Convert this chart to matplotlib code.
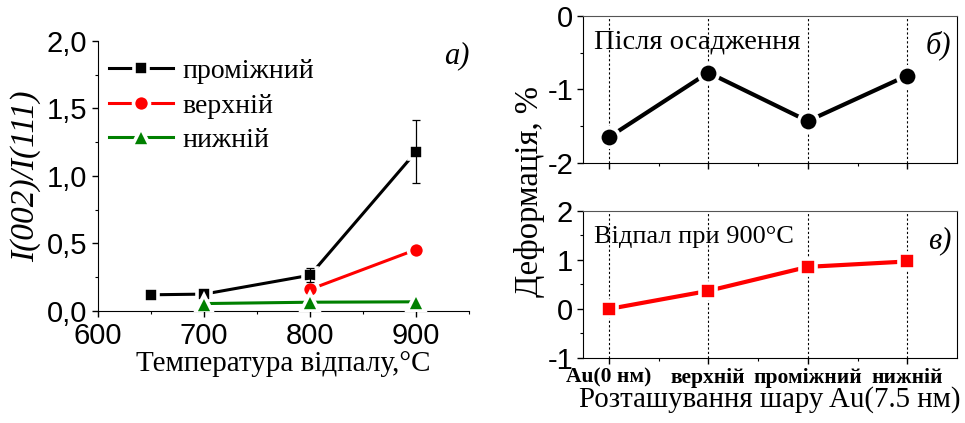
import matplotlib
matplotlib.use("Agg")
import matplotlib.pyplot as plt
from matplotlib.ticker import FixedLocator, MultipleLocator, FuncFormatter

plt.rcParams["axes.unicode_minus"] = False
SANS = "Liberation Sans"
SERIF = "Liberation Serif"

# ── (a) I(002)/I(111) vs annealing temperature ────────────────────────────────
temp_mid = [650, 700, 800, 900]
ratio_mid = [0.12, 0.125, 0.265, 1.18]
err_mid = [0.0, 0.0, 0.05, 0.235]

temp_top = [800, 900]
ratio_top = [0.16, 0.455]

temp_bot = [700, 800, 900]
ratio_bot = [0.055, 0.065, 0.068]

series_labels = ["проміжний", "верхній", "нижній"]

# ── (б), (в) strain vs Au layer position ─────────────────────────────────────
positions = [1, 2, 3, 4]
position_labels = ["Au(0 нм)", "верхній", "проміжний", "нижній"]
strain_deposited = [-1.65, -0.77, -1.43, -0.81]
strain_annealed = [0.0, 0.37, 0.86, 0.97]

fig = plt.figure(figsize=(9.65, 4.23), dpi=100)

# ---------------- panel a ----------------
ax = fig.add_axes([0.1016, 0.2648, 0.3845, 0.6383])
# white marker edges leave a small gap where the line meets each marker
ax.plot(temp_mid, ratio_mid, "-s", color="black", lw=2.2, ms=10.5,
        mec="white", mew=2.6, mfc="black", label=series_labels[0], zorder=3)
ax.plot(temp_top, ratio_top, "-o", color="red", lw=2.2, ms=11.5,
        mec="white", mew=2.6, mfc="red", label=series_labels[1], zorder=3)
ax.plot(temp_bot, ratio_bot, "-^", color="green", lw=2.2, ms=12.5,
        mec="white", mew=2.6, mfc="green", label=series_labels[2], zorder=3)
ax.errorbar(temp_mid[2:], ratio_mid[2:], yerr=err_mid[2:], fmt="none",
            ecolor="black", elinewidth=0.9, capsize=3, capthick=0.9, zorder=4)

ax.set_xlim(600, 950)
ax.set_ylim(0, 2.0)
ax.xaxis.set_major_locator(FixedLocator([600, 700, 800, 900]))
ax.xaxis.set_minor_locator(FixedLocator([650, 750, 850, 950]))
ax.yaxis.set_major_locator(MultipleLocator(0.5))
ax.yaxis.set_minor_locator(MultipleLocator(0.25))
ax.yaxis.set_major_formatter(FuncFormatter(lambda v, _: f"{v:.1f}".replace(".", ",")))
for side in ("top", "right"):
    ax.spines[side].set_visible(False)
ax.tick_params(which="major", direction="out", length=4, width=1, labelsize=21, pad=4)
ax.tick_params(which="minor", direction="out", length=2.5, width=0.8)
for lab in ax.get_xticklabels() + ax.get_yticklabels():
    lab.set_fontfamily(SANS)
ax.set_xlabel("Температура відпалу,°C", family=SERIF, fontsize=21, labelpad=1)
ax.set_ylabel("I(002)/I(111)", family=SERIF, style="italic", fontsize=24, labelpad=4)
ax.text(1.0, 0.945, "a)", transform=ax.transAxes, ha="right", va="center",
        family=SERIF, style="italic", fontsize=22)
ax.legend(loc="upper left", bbox_to_anchor=(0.03, 0.935), frameon=False,
          prop={"family": SERIF, "size": 20}, handlelength=2.3,
          handletextpad=0.35, labelspacing=0.33, borderpad=0, borderaxespad=0)

# ---------------- panels б, в ----------------
def strain_panel(rect, values, color, marker, ms, ylim, major, minor, note, note_size, tag):
    a = fig.add_axes(rect)
    for p in positions:
        a.axvline(p, color="black", lw=0.8, ls=(0, (2, 2)), zorder=1)
    a.plot(positions, values, "-" + marker, color=color, lw=3, ms=ms,
           mec="white", mew=2.6, mfc=color, zorder=3)
    a.set_xlim(0.74, 4.5)
    a.set_ylim(*ylim)
    a.xaxis.set_major_locator(FixedLocator(positions))
    a.xaxis.set_minor_locator(FixedLocator([1.5, 2.5, 3.5]))
    a.yaxis.set_major_locator(FixedLocator(major))
    a.yaxis.set_minor_locator(FixedLocator(minor))
    a.spines["top"].set_color("#555555")
    a.tick_params(which="major", direction="out", length=4, width=1, labelsize=21, pad=3)
    a.tick_params(which="minor", direction="out", length=2.5, width=0.8)
    for lab in a.get_yticklabels():
        lab.set_fontfamily(SANS)
    a.text(0.03, 0.82, note, transform=a.transAxes, ha="left", va="center",
           family=SERIF, fontsize=note_size)
    a.text(0.985, 0.80, tag, transform=a.transAxes, ha="right", va="center",
           family=SERIF, style="italic", fontsize=22)
    return a

ax_b = strain_panel([0.6041, 0.6147, 0.3876, 0.3475], strain_deposited, "black", "o", 14,
                    (-2, 0), [-2, -1, 0], [-1.5, -0.5], "Після осадження", 20.5, "б)")
ax_b.tick_params(axis="x", labelbottom=False)

ax_c = strain_panel([0.6041, 0.1537, 0.3876, 0.3475], strain_annealed, "red", "s", 12,
                    (-1, 2), [-1, 0, 1, 2], [-0.5, 0.5, 1.5], "Відпал при 900°C", 19, "в)")
ax_c.set_xticklabels(position_labels, family=SERIF, fontweight="bold", fontsize=15.5)
ax_c.tick_params(axis="x", pad=3)
ax_c.set_xlabel("Розташування шару Au(7.5 нм)", family=SERIF, fontsize=20.8, labelpad=-1)

fig.text(0.549, 0.548, "Деформація, %", rotation=90, ha="center", va="center",
         family=SERIF, fontsize=23.5)

fig.savefig("out.png", dpi=100)
